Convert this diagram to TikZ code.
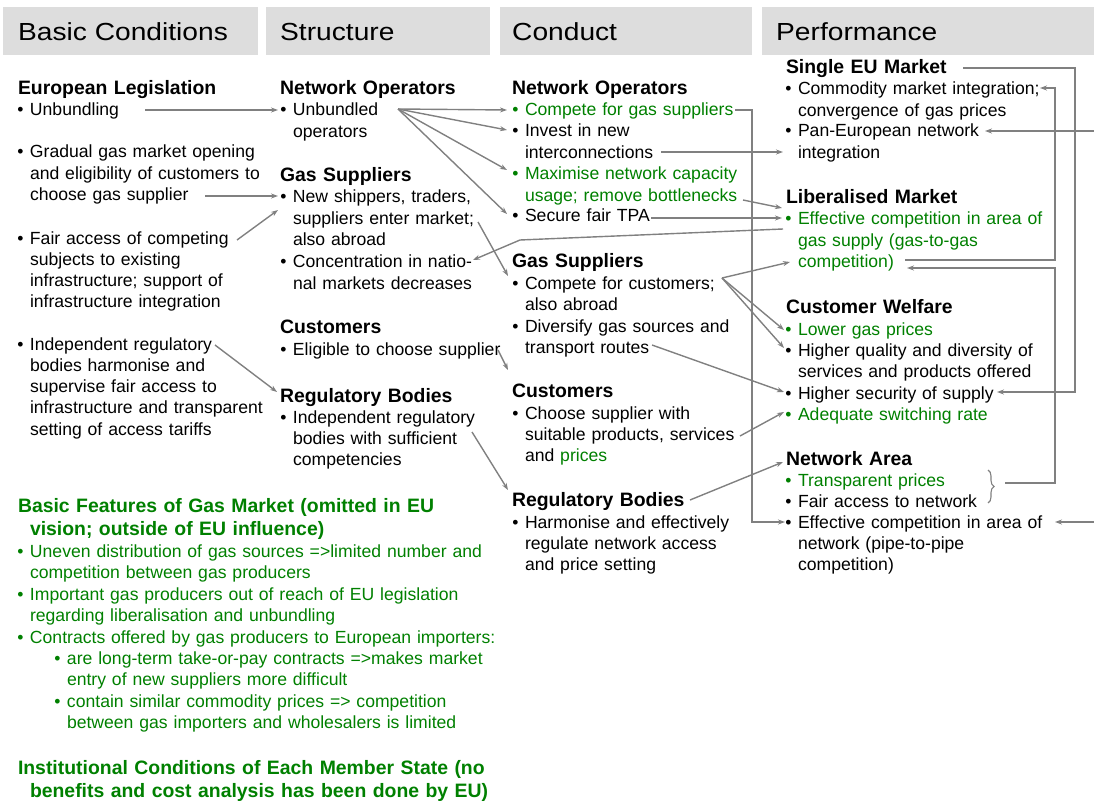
\documentclass[tikz,border=0pt]{standalone}
\usepackage{fontspec}
\setmainfont{Liberation Sans}
\newfontfamily\hdrfont[FakeStretch=1.14]{Liberation Sans}
\usetikzlibrary{calc,arrows.meta,decorations.pathreplacing}
\definecolor{hdrgray}{RGB}{221,221,221}
\definecolor{lgreen}{RGB}{0,128,0}
\definecolor{cgray}{RGB}{128,128,128}
\newcommand{\bu}{\llap{\textbullet\hspace{6.5pt}}}
\newcommand{\gr}[1]{\textcolor{lgreen}{#1}}
\begin{document}
\begin{tikzpicture}[x=1pt,y=-1pt,
  body/.style={anchor=base west, inner sep=0pt, outer sep=0pt, text width=560pt, align=left, font=\fontsize{17.6}{21.3}\selectfont},
  head/.style={anchor=base west, inner sep=0pt, outer sep=0pt, text width=560pt, align=left, font=\fontsize{19.4}{23.5}\selectfont\bfseries},
  colhead/.style={anchor=base west, inner sep=0pt, font=\hdrfont\fontsize{24.7}{28}\selectfont},
  hbar/.style={fill=hdrgray, draw=none},
  con/.style={draw=cgray, line width=1.4pt, -{Stealth[length=7pt,width=5pt]}},
  brc/.style={draw=cgray, line width=1.1pt, decorate, decoration={brace, amplitude=6pt}}
]
\useasboundingbox (0,0) rectangle (1094,802);
% header bars
\path[hbar] (3,7) rectangle (258,55);
\path[hbar] (266,7) rectangle (490,55);
\path[hbar] (500,7) rectangle (752,55);
\path[hbar] (762,7) rectangle (1094,55);
\node[colhead] (t1) at (18,41) {Basic Conditions};
\node[colhead] (t2) at (280,41) {Structure};
\node[colhead] (t3) at (512,41) {Conduct};
\node[colhead] (t4) at (776,41) {Performance};
% column 1
\node[head] (h11) at (18,95) {European Legislation};
\node[body] (a11) at (30,116) {\bu Unbundling};
\node[body] (a12) at (30,158) {\bu Gradual gas market opening\\and eligibility of customers to\\choose gas supplier};
\node[body] (a13) at (30,244) {\bu Fair access of competing\\subjects to existing\\infrastructure; support of\\infrastructure integration};
\node[body] (a14) at (30,350) {\bu Independent regulatory\\bodies harmonise and\\supervise fair access to\\infrastructure and transparent\\setting of access tariffs};
% green block
\node[head, text=lgreen] (g1) at (18,512) {Basic Features of Gas Market (omitted in EU\\\hspace*{12pt}vision; outside of EU influence)};
\node[body, text=lgreen] (g2) at (30,557) {\bu Uneven distribution of gas sources =>limited number and\\competition between gas producers};
\node[body, text=lgreen] (g3) at (30,600) {\bu Important gas producers out of reach of EU legislation\\regarding liberalisation and unbundling};
\node[body, text=lgreen] (g4) at (30,643) {\bu Contracts offered by gas producers to European importers:};
\node[body, text=lgreen] (g5) at (67,664) {\bu are long-term take-or-pay contracts =>makes market\\entry of new suppliers more difficult};
\node[body, text=lgreen] (g6) at (67,707) {\bu contain similar commodity prices => competition\\between gas importers and wholesalers is limited};
\node[head, text=lgreen] (g7) at (18,774) {Institutional Conditions of Each Member State (no\\\hspace*{12pt}benefits and cost analysis has been done by EU)};
% column 2
\node[head] (h21) at (280,95) {Network Operators};
\node[body] (a21) at (293,116) {\bu Unbundled\\operators};
\node[head] (h22) at (280,182) {Gas Suppliers};
\node[body] (a22) at (293,203) {\bu New shippers, traders,\\suppliers enter market;\\also abroad};
\node[body] (a23) at (293,268) {\bu Concentration in natio-\\nal markets decreases};
\node[head] (h23) at (280,333) {Customers};
\node[body] (a24) at (293,355) {\bu Eligible to choose supplier};
\node[head] (h24) at (280,402) {Regulatory Bodies};
\node[body] (a25) at (293,423) {\bu Independent regulatory\\bodies with sufficient\\competencies};
% column 3
\node[head] (h31) at (512,95) {Network Operators};
\node[body, text=lgreen] (a31) at (525,116) {\bu Compete for gas suppliers};
\node[body] (a32) at (525,137) {\bu Invest in new\\interconnections};
\node[body, text=lgreen] (a33) at (525,180) {\bu Maximise network capacity\\usage; remove bottlenecks};
\node[body] (a34) at (525,222) {\bu Secure fair TPA};
\node[head] (h32) at (512,267) {Gas Suppliers};
\node[body] (a35) at (525,289) {\bu Compete for customers;\\also abroad};
\node[body] (a36) at (525,332) {\bu Diversify gas sources and\\transport routes};
\node[head] (h33) at (512,397) {Customers};
\node[body] (a37) at (525,419) {\bu Choose supplier with\\suitable products, services\\and \gr{prices}};
\node[head] (h34) at (512,506) {Regulatory Bodies};
\node[body] (a38) at (525,528) {\bu Harmonise and effectively\\regulate network access\\and price setting};
% column 4
\node[head] (h41) at (786,74) {Single EU Market};
\node[body] (a41) at (798,95) {\bu Commodity market integration;\\convergence of gas prices};
\node[body] (a42) at (798,137) {\bu Pan-European network\\integration};
\node[head] (h42) at (786,204) {Liberalised Market};
\node[body, text=lgreen] (a43) at (798,225) {\bu Effective competition in area of\\gas supply (gas-to-gas\\competition)};
\node[head] (h43) at (786,313) {Customer Welfare};
\node[body, text=lgreen] (a44) at (798,335) {\bu Lower gas prices};
\node[body] (a45) at (798,356) {\bu Higher quality and diversity of\\services and products offered};
\node[body] (a46) at (798,399) {\bu Higher security of supply};
\node[body, text=lgreen] (a47) at (798,420) {\bu Adequate switching rate};
\node[head] (h44) at (786,465) {Network Area};
\node[body, text=lgreen] (a48) at (798,486) {\bu Transparent prices};
\node[body] (a49) at (798,507) {\bu Fair access to network};
\node[body] (a410) at (798,528) {\bu Effective competition in area of\\network (pipe-to-pipe\\competition)};
% connectors
\draw[con] ($(a11.base west)+(115,-6)$) -- ($(a21.base west)+(-15,-6)$);
\draw[con] ($(a12.base west)+(175,38)$) -- ($(a22.base west)+(-15,-7)$);
\draw[con] ($(a13.base west)+(207,-4)$) -- ($(a22.base west)+(-15,7)$);
\draw[con] ($(a14.base west)+(185,-5)$) -- ($(h24.base west)+(-3,-10)$);
\coordinate (u) at ($(a21.base west)+(105,-7)$);
\draw[con] (u) -- ($(a31.base west)+(-18,-6)$);
\draw[con] (u) -- ($(a32.base west)+(-18,-7)$);
\draw[con] (u) -- ($(a33.base west)+(-18,-10)$);
\draw[con] (u) -- ($(a34.base west)+(-18,-8)$);
\draw[con] ($(a22.base west)+(185,19)$) -- ($(a35.base west)+(-17,-13)$);
\draw[con] ($(a24.base west)+(205,-5)$) -- ($(h33.base west)+(-4,-27)$);
\draw[con] ($(a25.base west)+(179,9)$) -- ($(h34.base west)+(-4,-16)$);
\draw[con] ($(a31.base west)+(210,-6)$) -- ++(17,0) |- ($(a410.base west)+(-13,-6)$);
\draw[con] ($(a32.base west)+(136,15)$) -- ($(a42.base west)+(-15,15)$);
\draw[con] ($(a33.base west)+(218,20)$) -- ($(a43.base west)+(-16,-17)$);
\draw[con] ($(a34.base west)+(126,-4)$) -- ($(a43.base west)+(-16,-7)$);
\draw[con] ($(a43.base west)+(-15,4)$) -- ($(a35.base west)+(-5,-49)$) -- ($(a23.base west)+(180,-8)$);
\coordinate (c) at ($(a35.base west)+(197,-11)$);
\draw[con] (c) -- ($(a43.base west)+(-8,37)$);
\draw[con] (c) -- ($(a44.base west)+(-14,-5)$);
\draw[con] (c) -- ($(a45.base west)+(-14,-8)$);
\draw[con] ($(a36.base west)+(127,13)$) -- ($(a46.base west)+(-14,-7)$);
\draw[con] ($(a37.base west)+(215,17)$) -- ($(a47.base west)+(-14,-8)$);
\draw[con] ($(h34.base west)+(178,-6)$) -- ($(h44.base west)+(-3,-3)$);
\draw[con] ($(h41.base west)+(177,-6)$) -- ++(112,0) |- ($(a46.base west)+(199,-7)$);
\draw[con] ($(a43.base west)+(107,35)$) -- ++(150,0) |- ($(a41.base west)+(242,-7)$);
\draw[brc] ($(a48.base west)+(190,-16)$) -- ($(a49.base west)+(190,-4)$);
\coordinate (bt) at ($(a48.base west)+(207,-3)$);
\draw[con] (bt) -- ++(50,0) |- ($(a43.base west)+(109,43)$);
\coordinate (r1) at (1094,131);
\coordinate (r2) at (1094,522);
\draw[con] (r1) -- ($(a42.base west)+(187,-6)$);
\draw[con] (r2) -- ($(a410.base west)+(257,-6)$);
\end{tikzpicture}
\end{document}
